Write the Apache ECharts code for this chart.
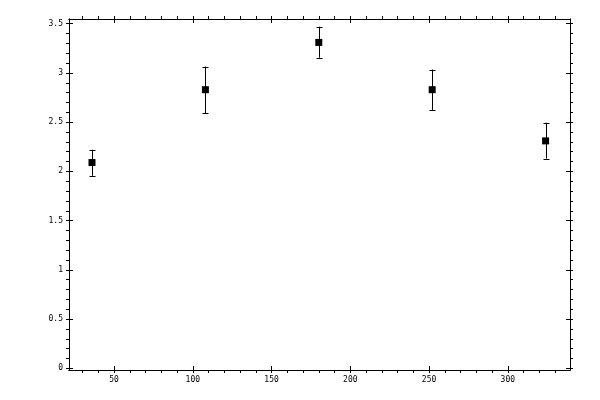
<!DOCTYPE html>
<html>
<head>
<meta charset="utf-8">
<script src="https://cdn.jsdelivr.net/npm/echarts@6/dist/echarts.min.js"></script>
<style>html,body{margin:0;padding:0;background:#fff}#c{width:600px;height:400px}</style>
</head>
<body>
<div id="c"></div>
<script>
const xValues = [36, 108, 180, 252, 324];
const yValues = [2.09, 2.83, 3.31, 2.83, 2.31];
const yLow = [1.955, 2.59, 3.155, 2.625, 2.13];
const yHigh = [2.22, 3.065, 3.47, 3.035, 2.495];

const xMajorTicks = [50, 100, 150, 200, 250, 300];
const xMinorTicks = [30, 40, 50, 60, 70, 80, 90, 100, 110, 120, 130, 140, 150, 160, 170, 180, 190, 200, 210, 220, 230, 240, 250, 260, 270, 280, 290, 300, 310, 320, 330];
const yMajorTicks = [0, 0.5, 1, 1.5, 2, 2.5, 3, 3.5];
const yMinorTicks = [0, 0.1, 0.2, 0.3, 0.4, 0.5, 0.6, 0.7, 0.8, 0.9, 1, 1.1, 1.2, 1.3, 1.4, 1.5, 1.6, 1.7, 1.8, 1.9, 2, 2.1, 2.2, 2.3, 2.4, 2.5, 2.6, 2.7, 2.8, 2.9, 3, 3.1, 3.2, 3.3, 3.4, 3.5];

const X_MIN = 21.4, X_MAX = 339.5, Y_MIN = -0.017, Y_MAX = 3.548;
const FONT = 'DejaVu Sans Mono';

function axis(kind, position, ticks, inside, len, labels) {
  const a = {
    type: 'value', position: position, min: kind === 'x' ? X_MIN : Y_MIN, max: kind === 'x' ? X_MAX : Y_MAX,
    axisLine: { show: true, onZero: false, lineStyle: { color: '#000', width: 1 } },
    axisTick: { show: true, inside: inside, length: len, customValues: ticks, lineStyle: { color: '#000', width: 1 } },
    axisLabel: { show: false },
    splitLine: { show: false }
  };
  if (labels) {
    a.axisLabel = { show: true, customValues: labels, color: '#000', fontFamily: FONT, fontSize: 8, margin: 6,
      formatter: function (v) { return String(v); } };
  }
  return a;
}

const chart = echarts.init(document.getElementById('c'), null, { renderer: 'canvas' });
chart.setOption({
  animation: false,
  backgroundColor: '#fff',
  grid: { left: 69, right: 30, top: 19, bottom: 30, containLabel: false },
  xAxis: [
    axis('x', 'bottom', xMinorTicks, false, 3, xMajorTicks),
    axis('x', 'bottom', xMajorTicks, true, 4, null),
    axis('x', 'top', xMinorTicks, false, 3, null),
    axis('x', 'top', xMajorTicks, true, 4, null)
  ],
  yAxis: [
    axis('y', 'left', yMinorTicks, false, 3, yMajorTicks),
    axis('y', 'left', yMajorTicks, true, 4, null),
    axis('y', 'right', yMinorTicks, false, 3, null),
    axis('y', 'right', yMajorTicks, true, 4, null)
  ],
  series: [
    {
      type: 'custom',
      xAxisIndex: 0, yAxisIndex: 0,
      data: xValues.map((x, i) => [x, yLow[i], yHigh[i]]),
      renderItem: function (params, api) {
        const lo = api.coord([api.value(0), api.value(1)]);
        const hi = api.coord([api.value(0), api.value(2)]);
        const cx = Math.round(lo[0]) + 0.5;
        const w = 3;
        const st = { stroke: '#000', lineWidth: 1 };
        return {
          type: 'group',
          children: [
            { type: 'line', shape: { x1: cx, y1: hi[1], x2: cx, y2: lo[1] }, style: st },
            { type: 'line', shape: { x1: cx - w, y1: Math.round(hi[1]) + 0.5, x2: cx + w, y2: Math.round(hi[1]) + 0.5 }, style: st },
            { type: 'line', shape: { x1: cx - w, y1: Math.round(lo[1]) + 0.5, x2: cx + w, y2: Math.round(lo[1]) + 0.5 }, style: st }
          ]
        };
      },
      z: 1
    },
    {
      type: 'scatter',
      xAxisIndex: 0, yAxisIndex: 0,
      symbol: 'rect', symbolSize: 7,
      itemStyle: { color: '#000', opacity: 1 },
      data: xValues.map((x, i) => [x, yValues[i]]),
      z: 2
    }
  ]
});
</script>
</body>
</html>
